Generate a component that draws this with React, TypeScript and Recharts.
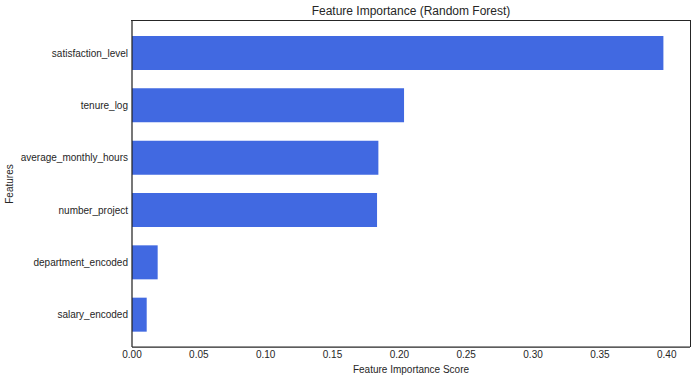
import React from "react";
import { BarChart, Bar, XAxis, YAxis } from "recharts";

// feature names, top to bottom as shown in the chart
const features = [
  "satisfaction_level",
  "tenure_log",
  "average_monthly_hours",
  "number_project",
  "department_encoded",
  "salary_encoded",
];

// importance score per feature
const scores = [0.3975, 0.2035, 0.1843, 0.1833, 0.0192, 0.011];

const xTicks = [0, 0.05, 0.1, 0.15, 0.2, 0.25, 0.3, 0.35, 0.4];

const FONT = "'Liberation Sans', Arial, sans-serif";
const INK = "#262626";

const App: React.FC = () => {
  // one row per feature for the BarChart
  const data = features.map((name, i) => ({ name, score: scores[i] }));

  return (
    <div style={{ position: "absolute", left: 0, top: 0, width: 696, height: 380, fontFamily: FONT }}>
      <div
        style={{
          position: "absolute",
          top: 4,
          left: 132,
          width: 558,
          textAlign: "center",
          fontSize: 12,
          color: INK,
        }}
      >
        Feature Importance (Random Forest)
      </div>
      <BarChart
        width={696}
        height={380}
        data={data}
        layout="vertical"
        margin={{ top: 21, right: 6, bottom: 0, left: 0 }}
      >
        <XAxis
          type="number"
          dataKey="score"
          domain={[0, 0.4174]}
          ticks={xTicks}
          tickFormatter={(v: number) => v.toFixed(2)}
          allowDataOverflow
          height={33}
          tickLine={false}
          tickSize={0}
          tickMargin={4}
          axisLine={{ stroke: INK, strokeWidth: 1.25 }}
          tick={{ fontSize: 10, fill: INK, fontFamily: FONT }}
          label={{
            value: "Feature Importance Score",
            position: "insideBottom",
            offset: 7,
            fontSize: 10,
            fill: INK,
            fontFamily: FONT,
          }}
        />
        <YAxis
          type="category"
          dataKey="name"
          width={132}
          padding={{ top: 6, bottom: 6 }}
          tickLine={false}
          tickSize={0}
          tickMargin={4}
          axisLine={{ stroke: INK, strokeWidth: 1.25 }}
          tick={{ fontSize: 10, fill: INK, fontFamily: FONT }}
          label={{
            value: "Features",
            angle: -90,
            position: "insideLeft",
            offset: 9,
            fontSize: 10,
            fill: INK,
            fontFamily: FONT,
            style: { textAnchor: "middle" },
          }}
        />
        <Bar dataKey="score" fill="#4169E1" barSize={34} isAnimationActive={false} />
      </BarChart>
      {/* top and right spines of the axes box */}
      <div
        style={{
          position: "absolute",
          left: 131,
          top: 20.4,
          width: 559.6,
          height: 327,
          boxSizing: "border-box",
          borderTop: `1.25px solid ${INK}`,
          borderRight: `1.25px solid ${INK}`,
          pointerEvents: "none",
        }}
      />
    </div>
  );
};

export default App;
